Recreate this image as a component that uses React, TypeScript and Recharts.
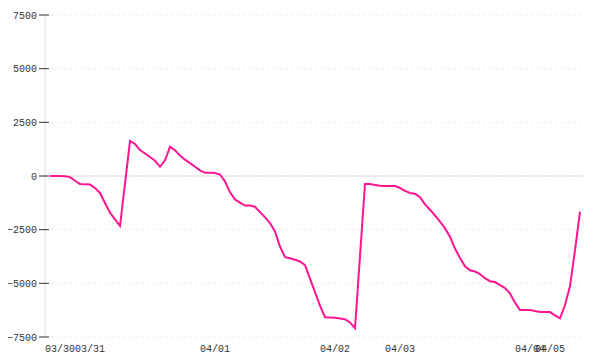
import React from "react";
import { CartesianGrid, Line, LineChart, ReferenceLine, XAxis, YAxis } from "recharts";

// balance, one reading per step
const balance = [
  0, 0, 0, -10, -50, -220, -370, -390, -400, -560,
  -790, -1260, -1710, -2020, -2330, -350, 1630, 1490, 1210, 1050,
  885, 710, 430, 730, 1360, 1200, 950, 760, 600, 430,
  260, 150, 150, 140, 70, -250, -760, -1090, -1240, -1380,
  -1380, -1430, -1680, -1920, -2190, -2580, -3290, -3780, -3830, -3900,
  -3980, -4150, -4780, -5410, -6040, -6580, -6590, -6600, -6640, -6670,
  -6820, -7090, -3730, -370, -370, -420, -450, -460, -460, -470,
  -560, -690, -790, -830, -990, -1320, -1570, -1840, -2130, -2440,
  -2830, -3380, -3820, -4210, -4390, -4450, -4570, -4760, -4900, -4940,
  -5080, -5220, -5470, -5900, -6240, -6240, -6240, -6290, -6330, -6330,
  -6340, -6490, -6630, -6010, -5140, -3460, -1660,
];

// first step of each day
const dayIndex = [2, 8, 33, 57, 70, 96, 100];
const dayLabels = ["03/30", "03/31", "04/01", "04/02", "04/03", "04/04", "04/05"];

const yTicks = [-7500, -5000, -2500, 0, 2500, 5000, 7500];

const data = balance.map((v, i) => ({ i, v }));

const font = "'Liberation Mono', monospace";

function YTick({ x, y, payload }: any) {
  const label = String(payload.value).replace("-", "\u2212");
  return (
    <g>
      <line x1={x + 2} x2={x + 12} y1={y} y2={y} stroke="#333" />
      <text x={x} y={y} dy="0.355em" textAnchor="end" fontSize={10} fontFamily={font} fill="#333">
        {label}
      </text>
    </g>
  );
}

export default function App() {
  return (
    <LineChart width={584} height={352} data={data} margin={{ top: 7, right: 7, bottom: 3, left: 0 }}>
      <CartesianGrid vertical={false} stroke="#eee" strokeDasharray="3 3" />
      <XAxis
        type="number"
        dataKey="i"
        domain={[0, balance.length - 1]}
        ticks={dayIndex}
        interval={0}
        tickFormatter={(i: number) => dayLabels[dayIndex.indexOf(i)]}
        axisLine={false}
        tickLine={false}
        padding={{ left: 5, right: 5 }}
        height={20}
        tick={{ fontSize: 10, fontFamily: font, fill: "#333" }}
      />
      <YAxis
        domain={[-7500, 7500]}
        ticks={yTicks}
        interval={0}
        width={37}
        axisLine={{ stroke: "#ddd" }}
        tickLine={false}
        tick={<YTick />}
      />
      <ReferenceLine y={0} stroke="#ddd" />
      <Line type="linear" dataKey="v" stroke="#ff1493" strokeWidth={2} dot={false} isAnimationActive={false} />
    </LineChart>
  );
}
